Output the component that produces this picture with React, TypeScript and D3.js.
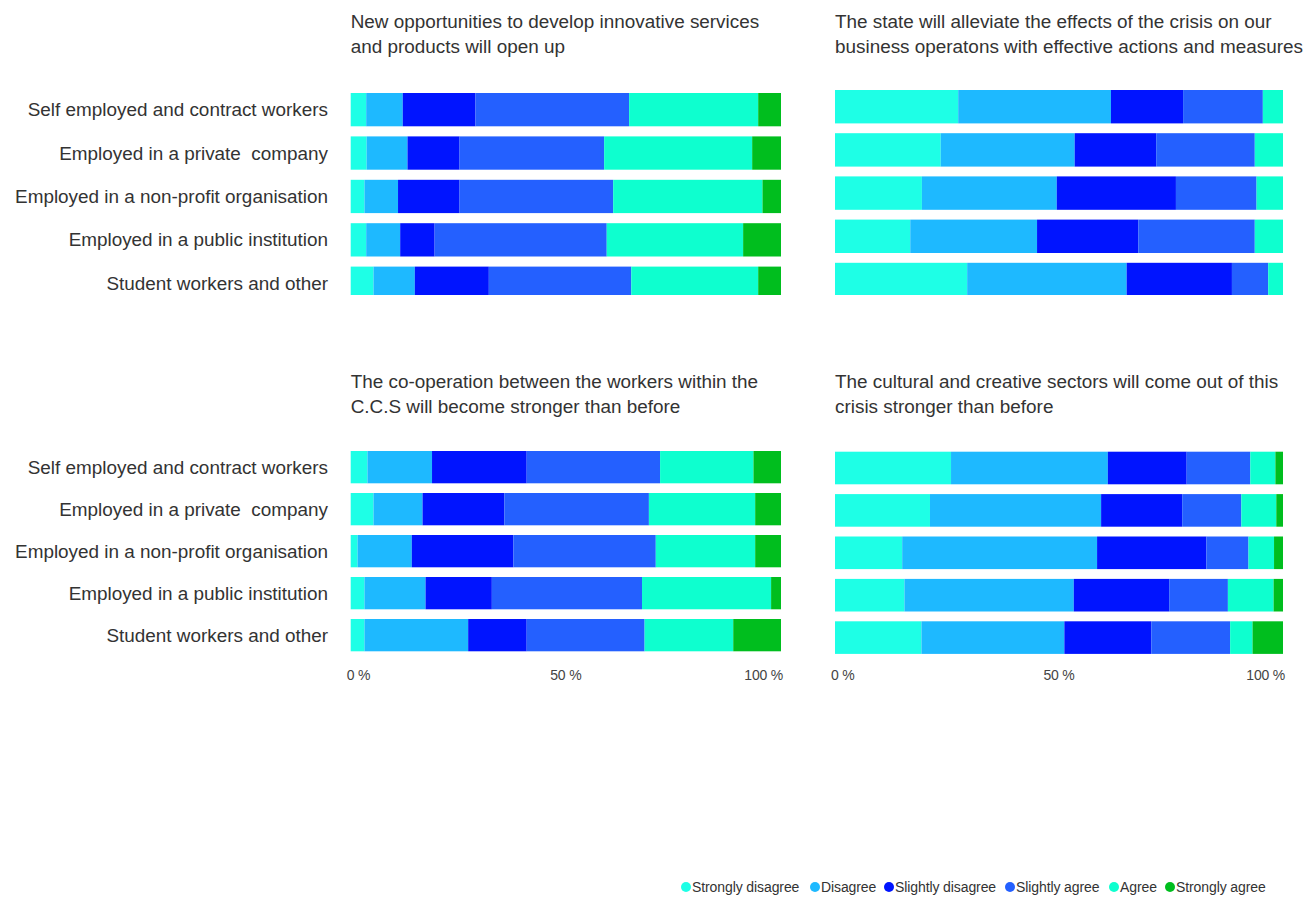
import React from "react";
import * as d3 from "d3";

const categories = [
  "Self employed and contract workers",
  "Employed in a private  company",
  "Employed in a non-profit organisation",
  "Employed in a public institution",
  "Student workers and other",
];

const seriesNames = [
  "Strongly disagree",
  "Disagree",
  "Slightly disagree",
  "Slightly agree",
  "Agree",
  "Strongly agree",
];

const seriesColors = ["#1effe6", "#1eb9ff", "#0014ff", "#2460ff", "#0effcf", "#00be1e"];

const tickValues = [0, 50, 100];
const tickLabels = ["0 %", "50 %", "100 %"];

const opportunitiesValues = [
  [3.6, 8.5, 16.9, 35.7, 30.0, 5.3],
  [3.7, 9.5, 12.1, 33.6, 34.4, 6.7],
  [3.2, 7.8, 14.3, 35.7, 34.7, 4.3],
  [3.6, 7.9, 8.0, 40.0, 31.7, 8.8],
  [5.3, 9.6, 17.2, 33.1, 29.5, 5.3],
];

const stateValues = [
  [27.5, 34.1, 16.1, 17.8, 4.5, 0],
  [23.6, 29.9, 18.2, 22.0, 6.3, 0],
  [19.4, 30.1, 26.6, 18.0, 5.9, 0],
  [16.8, 28.3, 22.6, 26.0, 6.3, 0],
  [29.5, 35.6, 23.5, 8.1, 3.3, 0],
];

const cooperationValues = [
  [3.9, 15.0, 22.0, 31.0, 21.7, 6.4],
  [5.3, 11.4, 19.0, 33.6, 24.7, 6.0],
  [1.6, 12.6, 23.6, 33.1, 23.1, 6.0],
  [3.2, 14.2, 15.4, 34.9, 30.0, 2.3],
  [3.2, 24.1, 13.6, 27.4, 20.6, 11.1],
];

const sectorsValues = [
  [25.9, 35.0, 17.6, 14.2, 5.6, 1.7],
  [21.2, 38.2, 18.1, 13.2, 7.8, 1.5],
  [15.0, 43.5, 24.4, 9.4, 5.7, 2.0],
  [15.5, 37.8, 21.3, 13.1, 10.2, 2.1],
  [19.3, 31.9, 19.4, 17.6, 5.0, 6.8],
];

const panelTitles = [
  ["New opportunities to develop innovative services", "and products will open up"],
  ["The state will alleviate the effects of the crisis on our", "business operatons with effective actions and measures"],
  ["The co-operation between the workers within the", "C.C.S will become stronger than before"],
  ["The cultural and creative sectors will come out of this", "crisis stronger than before"],
];

const FONT = "'Liberation Sans', Arial, Helvetica, sans-serif";
const TEXT = "#333333";

type PanelSpec = {
  id: string;
  values: number[][];
  title: string[];
  x0: number;
  x1: number;
  firstTop: number;
  pitch: number;
  barH: number;
  titleY: number;
  clipBottom: number | null;
  showAxis: boolean;
};

function Panel({ p }: { p: PanelSpec }) {
  const x = d3.scaleLinear().domain([0, 100]).range([p.x0, p.x1]);
  const gap = p.pitch - p.barH;
  const y = d3
    .scaleBand<string>()
    .domain(categories)
    .range([p.firstTop - gap / 2, p.firstTop - gap / 2 + p.pitch * categories.length])
    .paddingInner(gap / p.pitch)
    .paddingOuter(gap / (2 * p.pitch));

  const rows = categories.map((c, i) => ({ cat: c, vals: p.values[i] }));
  const stack = d3
    .stack<{ cat: string; vals: number[] }, number>()
    .keys(seriesNames.map((_, i) => i))
    .value((d, k) => d.vals[k]);
  const layers = stack(rows);

  return (
    <g>
      <defs>
        {p.clipBottom !== null && (
          <clipPath id={`clip-${p.id}`}>
            <rect x={p.x0 - 2} y={0} width={p.x1 - p.x0 + 4} height={p.clipBottom} />
          </clipPath>
        )}
      </defs>
      {p.title.map((t, i) => (
        <text key={i} x={p.x0} y={p.titleY + i * 25} fontFamily={FONT} fontSize={18.9} fill={TEXT}>
          {t}
        </text>
      ))}
      <g clipPath={p.clipBottom !== null ? `url(#clip-${p.id})` : undefined}>
        {layers.map((layer, li) => (
          <g key={li} fill={seriesColors[li]}>
            {layer.map((seg, ri) => {
              const w = x(seg[1]) - x(seg[0]);
              if (w <= 0) return null;
              return (
                <rect
                  key={ri}
                  x={x(seg[0])}
                  y={y(seg.data.cat)}
                  width={w}
                  height={y.bandwidth()}
                />
              );
            })}
          </g>
        ))}
      </g>
      {p.showAxis &&
        tickValues.map((v, i) => (
          <text
            key={v}
            x={i === 0 ? x(v) - 4 : i === tickValues.length - 1 ? x(v) + 2 : x(v)}
            y={680}
            textAnchor={i === 0 ? "start" : i === tickValues.length - 1 ? "end" : "middle"}
            fontFamily={FONT}
            fontSize={14}
            fill="#444"
            letterSpacing={-0.2}
          >
            {tickLabels[i]}
          </text>
        ))}
    </g>
  );
}

function Labels({ firstTop, pitch, barH }: { firstTop: number; pitch: number; barH: number }) {
  const gap = pitch - barH;
  const y = d3
    .scaleBand<string>()
    .domain(categories)
    .range([firstTop - gap / 2, firstTop - gap / 2 + pitch * categories.length])
    .paddingInner(gap / pitch)
    .paddingOuter(gap / (2 * pitch));
  return (
    <g>
      {categories.map((c) => (
        <text
          key={c}
          x={328}
          y={(y(c) as number) + y.bandwidth() / 2}
          dy="0.35em"
          textAnchor="end"
          fontFamily={FONT}
          fontSize={18.9}
          fill={TEXT}
          style={{ whiteSpace: "pre" }}
        >
          {c}
        </text>
      ))}
    </g>
  );
}

const legendX = [686, 815, 889, 1010, 1114, 1170];

export default function App() {
  const panels: PanelSpec[] = [
    { id: "a", values: opportunitiesValues, title: panelTitles[0], x0: 350.7, x1: 781, firstTop: 93, pitch: 43.4, barH: 33.3, titleY: 28, clipBottom: 295, showAxis: false },
    { id: "b", values: stateValues, title: panelTitles[1], x0: 835, x1: 1283, firstTop: 90, pitch: 43.2, barH: 33.4, titleY: 28, clipBottom: 295, showAxis: false },
    { id: "c", values: cooperationValues, title: panelTitles[2], x0: 350.7, x1: 781, firstTop: 451, pitch: 42, barH: 32.3, titleY: 388, clipBottom: null, showAxis: true },
    { id: "d", values: sectorsValues, title: panelTitles[3], x0: 835, x1: 1283, firstTop: 451.7, pitch: 42.4, barH: 32.6, titleY: 388, clipBottom: null, showAxis: true },
  ];
  return (
    <svg
      width={1308}
      height={897}
      style={{ position: "absolute", left: 0, top: 0, background: "#fff" }}
    >
      <Labels firstTop={93} pitch={43.4} barH={33.3} />
      <Labels firstTop={451} pitch={42} barH={32.3} />
      {panels.map((p) => (
        <Panel key={p.id} p={p} />
      ))}
      <g>
        {seriesNames.map((s, i) => (
          <g key={s}>
            <circle cx={legendX[i]} cy={887} r={5} fill={seriesColors[i]} />
            <text
              x={legendX[i] + 6}
              y={887}
              dy="0.35em"
              fontFamily={FONT}
              fontSize={14}
              fill="#333"
              letterSpacing={-0.1}
            >
              {s}
            </text>
          </g>
        ))}
      </g>
    </svg>
  );
}
